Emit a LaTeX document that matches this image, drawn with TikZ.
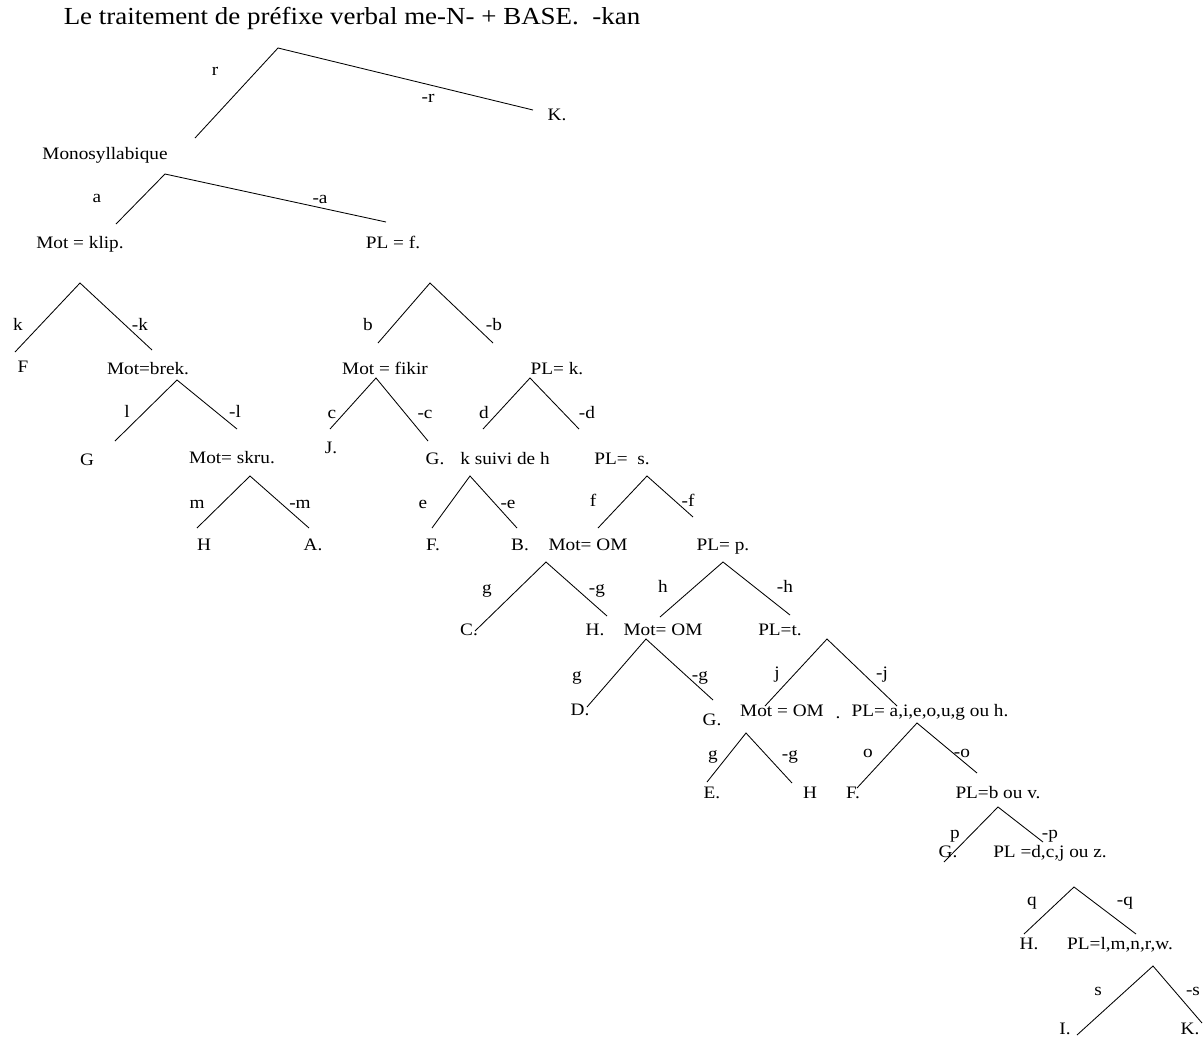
\documentclass[tikz,border=0pt]{standalone}
\usepackage{fontspec}
\setmainfont{Liberation Serif}[FakeStretch=1.1]
\newcommand{\mkfork}[4]{%
  \coordinate (#1) at #2; \coordinate (#1l) at #3; \coordinate (#1r) at #4;
  \draw[br] (#1l) -- (#1) -- (#1r);}
\begin{document}
\begin{tikzpicture}[x=1pt,y=-1pt,
  br/.style={line width=0.85pt, black},
  lab/.style={inner sep=0pt, text height=0.68em, text depth=0pt, yshift=-2pt, font=\fontsize{17.5}{18}\selectfont},
  ttl/.style={inner sep=0pt, text height=0.68em, text depth=0pt, font=\fontsize{24.5}{25}\selectfont}]
\useasboundingbox (0,0) rectangle (1203,1039);
\node[ttl] (title) at (352,21) {Le traitement de préfixe verbal me-N- + BASE.\ \ -kan};

% top
\mkfork{fr}{(278,48)}{(195,138)}{(533,110)}
\node[lab] (lr) at (215,70) {r};
\node[lab] (lnr) at (428,97) {-r};
\node[lab] (K1) at (557,115) {K.};
\node[lab] (mono) at (105,154) {Monosyllabique};

\mkfork{fa}{(165,174)}{(116,224)}{(386,222)}
\node[lab] (la) at (97,197) {a};
\node[lab] (lna) at (320,198) {-a};
\node[lab] (klip) at (80,243) {Mot = klip.};
\node[lab] (plf) at (393,243) {PL = f.};

% klip subtree
\mkfork{fk}{(80,283)}{(15,352)}{(152,350)}
\node[lab] (lk) at (18,325) {k};
\node[lab] (lnk) at (140,325) {-k};
\node[lab] (F1) at (23,367) {F};
\node[lab] (brek) at (148,369) {Mot=brek.};

\mkfork{fl}{(177,380)}{(115,441)}{(237,429)}
\node[lab] (ll) at (127,412) {l};
\node[lab] (lnl) at (235,412) {-l};
\node[lab] (G1) at (87,460) {G};
\node[lab] (skru) at (232,458) {Mot= skru.};

\mkfork{fm}{(250,476)}{(197,528)}{(309,528)}
\node[lab] (lm) at (197,503) {m};
\node[lab] (lnm) at (300,503) {-m};
\node[lab] (H1) at (204,545) {H};
\node[lab] (A1) at (313,545) {A.};

% PL = f subtree
\mkfork{fb}{(430,283)}{(378,343)}{(493,343)}
\node[lab] (lb) at (368,325) {b};
\node[lab] (lnb) at (494,325) {-b};
\node[lab] (fikir) at (385,369) {Mot = fikir};
\node[lab] (plk) at (557,369) {PL= k.};

\mkfork{fc}{(376,378)}{(330,429)}{(428,441)}
\node[lab] (lc) at (332,413) {c};
\node[lab] (lnc) at (425,413) {-c};
\node[lab] (J1) at (331,448) {J.};
\node[lab] (G2) at (435,459) {G.};
\node[lab] (ksh) at (505,459) {k suivi de h};

\mkfork{fd}{(530,378)}{(483,429)}{(579,429)}
\node[lab] (ld) at (484,413) {d};
\node[lab] (lnd) at (587,413) {-d};
\node[lab] (pls) at (622,459) {PL=\ \ s.};

\mkfork{fe}{(470,476)}{(432,528)}{(517,528)}
\node[lab] (le) at (423,503) {e};
\node[lab] (lne) at (508,503) {-e};
\node[lab] (F2) at (433,545) {F.};
\node[lab] (B1) at (520,545) {B.};

\mkfork{ff}{(647,476)}{(598,528)}{(693,517)}
\node[lab] (lf) at (593,501) {f};
\node[lab] (lnf) at (688,501) {-f};
\node[lab] (om1) at (588,545) {Mot= OM};
\node[lab] (plp) at (723,545) {PL= p.};

\mkfork{fga}{(546,562)}{(475,631)}{(607,616)}
\node[lab] (lga) at (487,588) {g};
\node[lab] (lnga) at (597,588) {-g};
\node[lab] (C1) at (469,630) {C.};
\node[lab] (H2) at (595,630) {H.};

\mkfork{fh}{(723,562)}{(660,617)}{(790,615)}
\node[lab] (lh) at (663,587) {h};
\node[lab] (lnh) at (785,587) {-h};
\node[lab] (om2) at (663,630) {Mot= OM};
\node[lab] (plt) at (780,630) {PL=t.};

\mkfork{fgb}{(646,639)}{(587,707)}{(713,700)}
\node[lab] (lgb) at (577,675) {g};
\node[lab] (lngb) at (700,675) {-g};
\node[lab] (D1) at (580,710) {D.};
\node[lab] (G3) at (712,720) {G.};

\mkfork{fj}{(827,639)}{(765,706)}{(897,706)}
\node[lab] (lj) at (777,673) {j};
\node[lab] (lnj) at (882,673) {-j};
\node[lab] (om3) at (782,711) {Mot = OM};
\node[lab] (dot) at (838,713) {.};
\node[lab] (plv) at (930,711) {PL= a,i,e,o,u,g ou h.};

\mkfork{fgc}{(746,733)}{(707,782)}{(792,783)}
\node[lab] (lgc) at (713,754) {g};
\node[lab] (lngc) at (790,754) {-g};
\node[lab] (E1) at (712,793) {E.};
\node[lab] (H3) at (810,793) {H};

\mkfork{fo}{(917,723)}{(857,788)}{(977,773)}
\node[lab] (lo) at (868,752) {o};
\node[lab] (lno) at (962,752) {-o};
\node[lab] (F3) at (853,793) {F.};
\node[lab] (plb) at (998,793) {PL=b ou v.};

\mkfork{fp}{(998,807)}{(944,862)}{(1043,842)}
\node[lab] (lp) at (955,833) {p};
\node[lab] (lnp) at (1050,833) {-p};
\node[lab] (G4) at (948,852) {G.};
\node[lab] (pld) at (1050,852) {PL =d,c,j ou z.};

\mkfork{fq}{(1074,887)}{(1024,934)}{(1136,934)}
\node[lab] (lq) at (1032,900) {q};
\node[lab] (lnq) at (1125,900) {-q};
\node[lab] (H4) at (1029,944) {H.};
\node[lab] (pll) at (1120,944) {PL=l,m,n,r,w.};

\mkfork{fs}{(1153,966)}{(1077,1035)}{(1202,1023)}
\node[lab] (ls) at (1098,990) {s};
\node[lab] (lns) at (1193,990) {-s};
\node[lab] (I1) at (1065,1029) {I.};
\node[lab] (K2) at (1190,1029) {K.};
\end{tikzpicture}
\end{document}
